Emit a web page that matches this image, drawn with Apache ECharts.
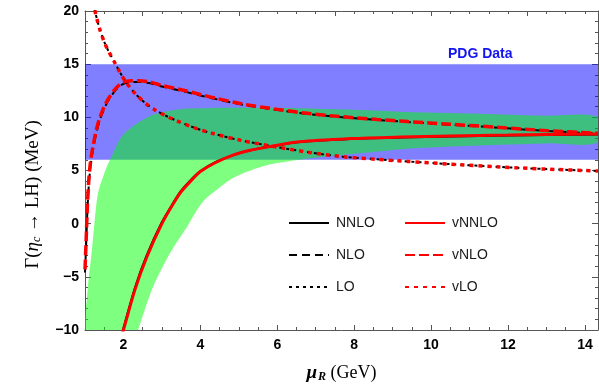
<!DOCTYPE html>
<html><head><meta charset="utf-8">
<script src="https://cdn.jsdelivr.net/npm/echarts@6/dist/echarts.min.js"></script>
<style>html,body{margin:0;padding:0;background:#fff}#c{width:599px;height:388px}</style>
</head><body><div id="c"></div>
<script>
// ---- data ----
const xMin = 1, xMax = 14.34, yMin = -10, yMax = 20;
const xMajorTicks = [2, 4, 6, 8, 10, 12, 14];
const xMinorTicks = [1.5, 2.5, 3, 3.5, 4.5, 5, 5.5, 6.5, 7, 7.5, 8.5, 9, 9.5, 10.5, 11, 11.5, 12.5, 13, 13.5];
const xTopMajorTicks = [2.5, 5, 7.5, 10, 12.5];
const xTopMinorTicks = [1.5, 2, 3, 3.5, 4, 4.5, 5.5, 6, 6.5, 7, 8, 8.5, 9, 9.5, 10.5, 11, 11.5, 12, 13, 13.5, 14];
const pdgLow = 6, pdgHigh = 15;
const pdgLabel = 'PDG Data';

const bandX    = [1.0, 1.05, 1.1, 1.17, 1.25, 1.32, 1.4, 1.47, 1.55, 1.65, 1.86, 2.0, 2.22, 2.38, 2.74, 3.0, 3.16, 3.34, 3.6, 4.05, 4.5, 4.85, 5.3, 5.73, 6.58, 7.5, 8.5, 9.4, 10.5, 12, 13, 14.34];
const greenHigh = [-9.0, -7.0, -5.0, -2.8, 0.2, 2.5, 3.7, 4.4, 5.2, 6.0, 7.6, 8.4, 9.1, 9.5, 10.2, 10.45, 10.6, 10.7, 10.8, 10.85, 10.9, 10.9, 10.9, 10.9, 10.85, 10.75, 10.65, 10.5, 10.4, 10.25, 10.15, 10.0];
const greenLow  = [-48, -45, -42, -38, -34, -31, -28, -26, -23.5, -21, -16.5, -14.2, -11.8, -10.0, -6.2, -4.2, -3.1, -2.0, -0.6, 2.0, 3.4, 4.3, 5.0, 5.5, 6.0, 6.4, 6.75, 7.05, 7.25, 7.45, 7.55, 7.65];

const nnloX  = [1.96, 2.0, 2.3, 2.6, 3.0, 3.3, 3.5, 3.8, 4.0, 4.4, 4.85, 5.3, 5.73, 6.58, 7.9, 9.2, 10.5, 12, 13, 14.34];
const vnnloY = [-10.5, -10.0, -6.2, -3.2, 0.0, 1.9, 3.0, 4.2, 4.9, 5.75, 6.45, 6.9, 7.2, 7.7, 8.0, 8.15, 8.25, 8.33, 8.38, 8.43];
const nnloY  = [-10.3, -9.8, -6.0, -3.0, 0.15, 2.0, 3.1, 4.3, 4.95, 5.8, 6.45, 6.9, 7.2, 7.68, 7.97, 8.1, 8.2, 8.28, 8.33, 8.38];

const nloX  = [1.0, 1.03, 1.06, 1.1, 1.15, 1.22, 1.3, 1.39, 1.5, 1.6, 1.75, 1.86, 2.0, 2.2, 2.4, 2.7, 3.0, 3.5, 4.0, 4.4, 5.1, 6.0, 6.84, 7.7, 8.6, 9.4, 10.5, 11.8, 13, 14.34];
const vnloY = [-4.3, -1.5, 1.5, 4.2, 6.0, 7.5, 8.9, 10.0, 11.0, 11.7, 12.5, 12.95, 13.3, 13.45, 13.45, 13.3, 13.0, 12.6, 12.15, 11.8, 11.25, 10.75, 10.35, 10.05, 9.8, 9.6, 9.35, 9.05, 8.75, 8.5];
const nloY  = [-4.6, -1.9, 1.0, 3.7, 5.6, 7.2, 8.6, 9.8, 10.8, 11.55, 12.35, 12.8, 13.15, 13.3, 13.32, 13.2, 12.9, 12.5, 12.05, 11.72, 11.18, 10.7, 10.3, 10.0, 9.76, 9.56, 9.31, 9.01, 8.72, 8.47];

const loX  = [1.2, 1.26, 1.31, 1.4, 1.5, 1.6, 1.75, 1.9, 2.04, 2.3, 2.6, 2.82, 3.1, 3.34, 3.86, 4.3, 5.1, 6.0, 6.84, 7.7, 8.6, 9.4, 10.5, 11.8, 13, 14.34];
const vloY = [20.9, 20.0, 19.25, 18.1, 17.1, 16.3, 15.3, 14.3, 13.45, 12.25, 11.25, 10.7, 10.15, 9.75, 9.0, 8.5, 7.8, 7.2, 6.7, 6.3, 6.05, 5.85, 5.6, 5.33, 5.13, 4.95];
const loY  = [20.9, 20.0, 19.25, 18.1, 17.1, 16.3, 15.3, 14.3, 13.45, 12.25, 11.25, 10.7, 10.15, 9.75, 9.0, 8.5, 7.8, 7.2, 6.7, 6.3, 6.05, 5.85, 5.6, 5.33, 5.13, 4.95];

// ---- chart ----
const pair = (xs, ys) => xs.map((x, i) => [x, ys[i]]);
const axisColor = '#555';
const labelFont = { fontFamily: 'Liberation Sans, Arial, sans-serif', fontWeight: 'bold', fontSize: 14, color: '#000' };

function xAx(pos, ticks, len, showLine, opts) {
  return Object.assign({
    type: 'value', min: xMin, max: xMax, position: pos,
    axisLine: { show: showLine, onZero: false, lineStyle: { color: axisColor, width: 1 } },
    axisTick: { show: true, inside: true, length: len, customValues: ticks, lineStyle: { color: axisColor } },
    axisLabel: { show: false },
    splitLine: { show: false }
  }, opts || {});
}

function renderBand(params, api) {
  if (params.dataIndex !== 0) return null;
  const n = bandX.length;
  const top = [], bot = [];
  for (let i = 0; i < n; i++) {
    top.push(api.coord([api.value(0, i), api.value(2, i)]));
    bot.push(api.coord([api.value(0, i), api.value(1, i)]));
  }
  const cs = params.coordSys;
  return {
    type: 'polygon',
    shape: { points: top.concat(bot.reverse()), smooth: 0.3 },
    style: { fill: 'rgba(0,255,0,0.5)' },
    clipPath: { type: 'rect', shape: { x: cs.x, y: cs.y, width: cs.width, height: cs.height } }
  };
}

const chart = echarts.init(document.getElementById('c'), null, { renderer: 'canvas' });
const serif = 'Liberation Serif, DejaVu Serif, serif';
const legendText = { fontFamily: 'Liberation Sans, Arial, sans-serif', fontSize: 14, color: '#1a1a1a', padding: [0, 0, 0, 2] };
const legendItemStyle = { color: 'rgba(0,0,0,0)', borderColor: 'rgba(0,0,0,0)', borderWidth: 0, opacity: 0 };
const option = {
  animation: false,
  backgroundColor: '#fff',
  grid: { left: 85, right: 1, top: 11, bottom: 58 },
  xAxis: [
    xAx('bottom', xMajorTicks, 5, true, {
      axisLabel: Object.assign({ show: true, customValues: xMajorTicks, margin: 8 }, labelFont),
      name: '{it|μ}{sub|R}{g| (GeV)}',
      nameLocation: 'middle', nameGap: 33,
      nameTextStyle: { rich: {
        it: { fontFamily: serif, fontStyle: 'italic', fontWeight: 'bold', fontSize: 19, color: '#000' },
        sub: { fontFamily: serif, fontStyle: 'italic', fontWeight: 'bold', fontSize: 12, color: '#000', verticalAlign: 'bottom', padding: [8, 0, 0, 1] },
        g: { fontFamily: serif, fontSize: 18, color: '#000' }
      } }
    }),
    xAx('bottom', xMinorTicks, 3, false),
    xAx('top', xTopMajorTicks, 5, true),
    xAx('top', xTopMinorTicks, 3, false)
  ],
  yAxis: [
    {
      type: 'value', min: yMin, max: yMax, interval: 5, position: 'left',
      axisLine: { show: true, onZero: false, lineStyle: { color: axisColor } },
      axisTick: { show: true, inside: true, length: 6, lineStyle: { color: axisColor } },
      minorTick: { show: true, splitNumber: 5, length: 3, lineStyle: { color: axisColor } },
      axisLabel: Object.assign({ margin: 6, formatter: v => (v < 0 ? '\u2212' + (-v) : '' + v) }, labelFont),
      splitLine: { show: false },
      name: '{g|Γ(}{it|η}{sub|c}{g| → LH) (MeV)}',
      nameLocation: 'middle', nameGap: 42, nameRotate: 90,
      nameTextStyle: { padding: [0, 48, 0, 0], rich: {
        g: { fontFamily: serif, fontSize: 19, color: '#000' },
        it: { fontFamily: serif, fontStyle: 'italic', fontSize: 19, color: '#000' },
        sub: { fontFamily: serif, fontStyle: 'italic', fontSize: 12, color: '#000', verticalAlign: 'bottom', padding: [8, 0, 0, 0] }
      } }
    },
    {
      type: 'value', min: yMin, max: yMax, interval: 5, position: 'right',
      axisLine: { show: true, onZero: false, lineStyle: { color: axisColor } },
      axisTick: { show: true, inside: true, length: 6, lineStyle: { color: axisColor } },
      minorTick: { show: true, splitNumber: 5, length: 3, lineStyle: { color: axisColor } },
      axisLabel: { show: false },
      splitLine: { show: false }
    }
  ],
  legend: [
    {
      data: ['NNLO', 'NLO', 'LO'], orient: 'vertical', left: 283, top: 211,
      itemWidth: 40, itemHeight: 14, itemGap: 18,
      itemStyle: legendItemStyle, textStyle: legendText
    },
    {
      data: ['vNNLO', 'vNLO', 'vLO'], orient: 'vertical', left: 399, top: 211,
      itemWidth: 40, itemHeight: 14, itemGap: 18,
      itemStyle: legendItemStyle, textStyle: legendText
    }
  ],
  graphic: [{
    type: 'text', left: 448, top: 47, z: 10,
    style: { text: pdgLabel, fill: '#1414f0', font: 'bold 14px "Liberation Sans", Arial, sans-serif' }
  }],
  series: [
    {
      name: 'band', type: 'custom', silent: true, z: 2,
      data: bandX.map((x, i) => [x, greenLow[i], greenHigh[i]]),
      encode: { x: 0, y: [1, 2] },
      renderItem: renderBand
    },
    {
      name: 'LO', type: 'line', data: pair(loX, loY), symbol: 'none', smooth: 0.3, z: 3,
      lineStyle: { color: '#000', width: 2, type: [3, 4] },
      markArea: { silent: true, itemStyle: { color: 'rgba(0,0,255,0.5)' }, data: [[{ yAxis: pdgLow }, { yAxis: pdgHigh }]] }
    },
    {
      name: 'NLO', type: 'line', data: pair(nloX, nloY), symbol: 'none', smooth: 0.3, z: 3,
      lineStyle: { color: '#000', width: 2, type: [8, 5] }
    },
    {
      name: 'NNLO', type: 'line', data: pair(nnloX, nnloY), symbol: 'none', smooth: 0.3, z: 3,
      lineStyle: { color: '#000', width: 2 }
    },
    {
      name: 'vLO', type: 'line', data: pair(loX, vloY), symbol: 'none', smooth: 0.3, z: 4,
      lineStyle: { color: '#ff0000', width: 3.5, type: [4, 5] }
    },
    {
      name: 'vNLO', type: 'line', data: pair(nloX, vnloY), symbol: 'none', smooth: 0.3, z: 4,
      lineStyle: { color: '#ff0000', width: 3.5, type: [10, 4] }
    },
    {
      name: 'vNNLO', type: 'line', data: pair(nnloX, vnnloY), symbol: 'none', smooth: 0.3, z: 4,
      lineStyle: { color: '#ff0000', width: 3 }
    }
  ]
};
chart.setOption(option);
</script>
</body></html>
